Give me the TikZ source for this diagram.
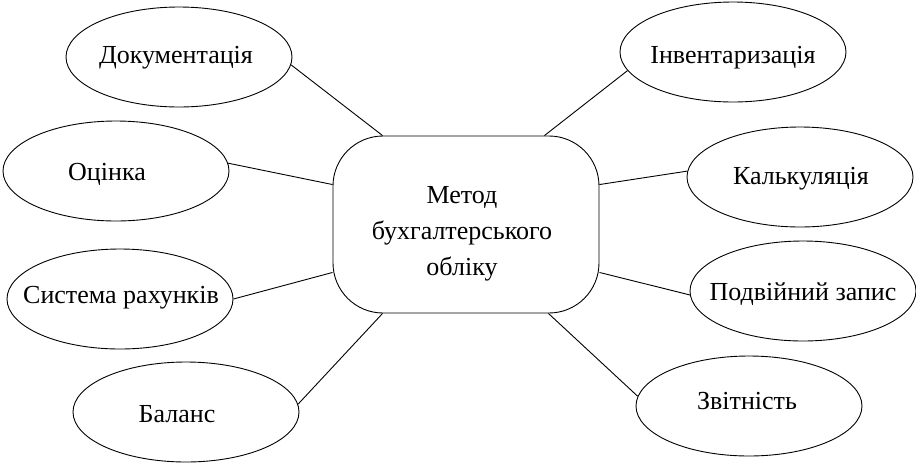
\documentclass[tikz,border=0pt]{standalone}
\usepackage{fontspec}
\setmainfont{Liberation Serif}
\usetikzlibrary{shapes.geometric}
\begin{document}
\begin{tikzpicture}[x=1pt,y=-1pt,
  ell/.style={draw,ellipse,line width=0.9pt,inner sep=0pt,minimum width=226pt,minimum height=100pt},
  lbl/.style={inner sep=0pt,font=\fontsize{26}{36}\selectfont,text height=17pt,text depth=0pt},
  mainbox/.style={draw,rectangle,rounded corners=50pt,line width=0.9pt,inner sep=0pt,minimum width=266pt,minimum height=177pt},
  conn/.style={line width=0.9pt}]
\useasboundingbox (0,0) rectangle (916,464);
% central box
\node[mainbox] (m) at (466,224.5) {};
\node[inner sep=0pt,align=center,font=\fontsize{26}{36}\selectfont] (mt) at (462,234) {Метод\\бухгалтерського\\обліку};
% ellipses
\node[ell] (dok) at (179,57) {};
\node[ell] (ots) at (116,171) {};
\node[ell] (sys) at (120,299) {};
\node[ell] (bal) at (186,412) {};
\node[ell] (inv) at (733,52) {};
\node[ell] (kal) at (800,177) {};
\node[ell] (pod) at (803,291) {};
\node[ell] (zvi) at (749,406) {};
% labels
\node[lbl] (tdok) at (176,55) {Документація};
\node[lbl] (tots) at (107,172) {Оцінка};
\node[lbl] (tsys) at (121,295) {Система рахунків};
\node[lbl] (tbal) at (177,414) {Баланс};
\node[lbl] (tinv) at (733,55) {Інвентаризація};
\node[lbl] (tkal) at (801,176) {Калькуляція};
\node[lbl] (tpod) at (803,292) {Подвійний запис};
\node[lbl] (tzvi) at (747,401) {Звітність};
% connectors
\draw[conn] (dok.-4) -- ([xshift=50pt]m.north west);
\draw[conn] (ots.4) -- ([yshift=-49pt]m.north west);
\draw[conn] (sys.0) -- ([yshift=41pt]m.south west);
\draw[conn] (bal.4) -- ([xshift=50pt]m.south west);
\draw[conn] (inv.190) -- ([xshift=-55pt]m.north east);
\draw[conn] (kal.177) -- ([yshift=-49pt]m.north east);
\draw[conn] (pod.182) -- ([yshift=41pt]m.south east);
\draw[conn] (zvi.175) -- ([xshift=-51pt]m.south east);
\end{tikzpicture}
\end{document}
